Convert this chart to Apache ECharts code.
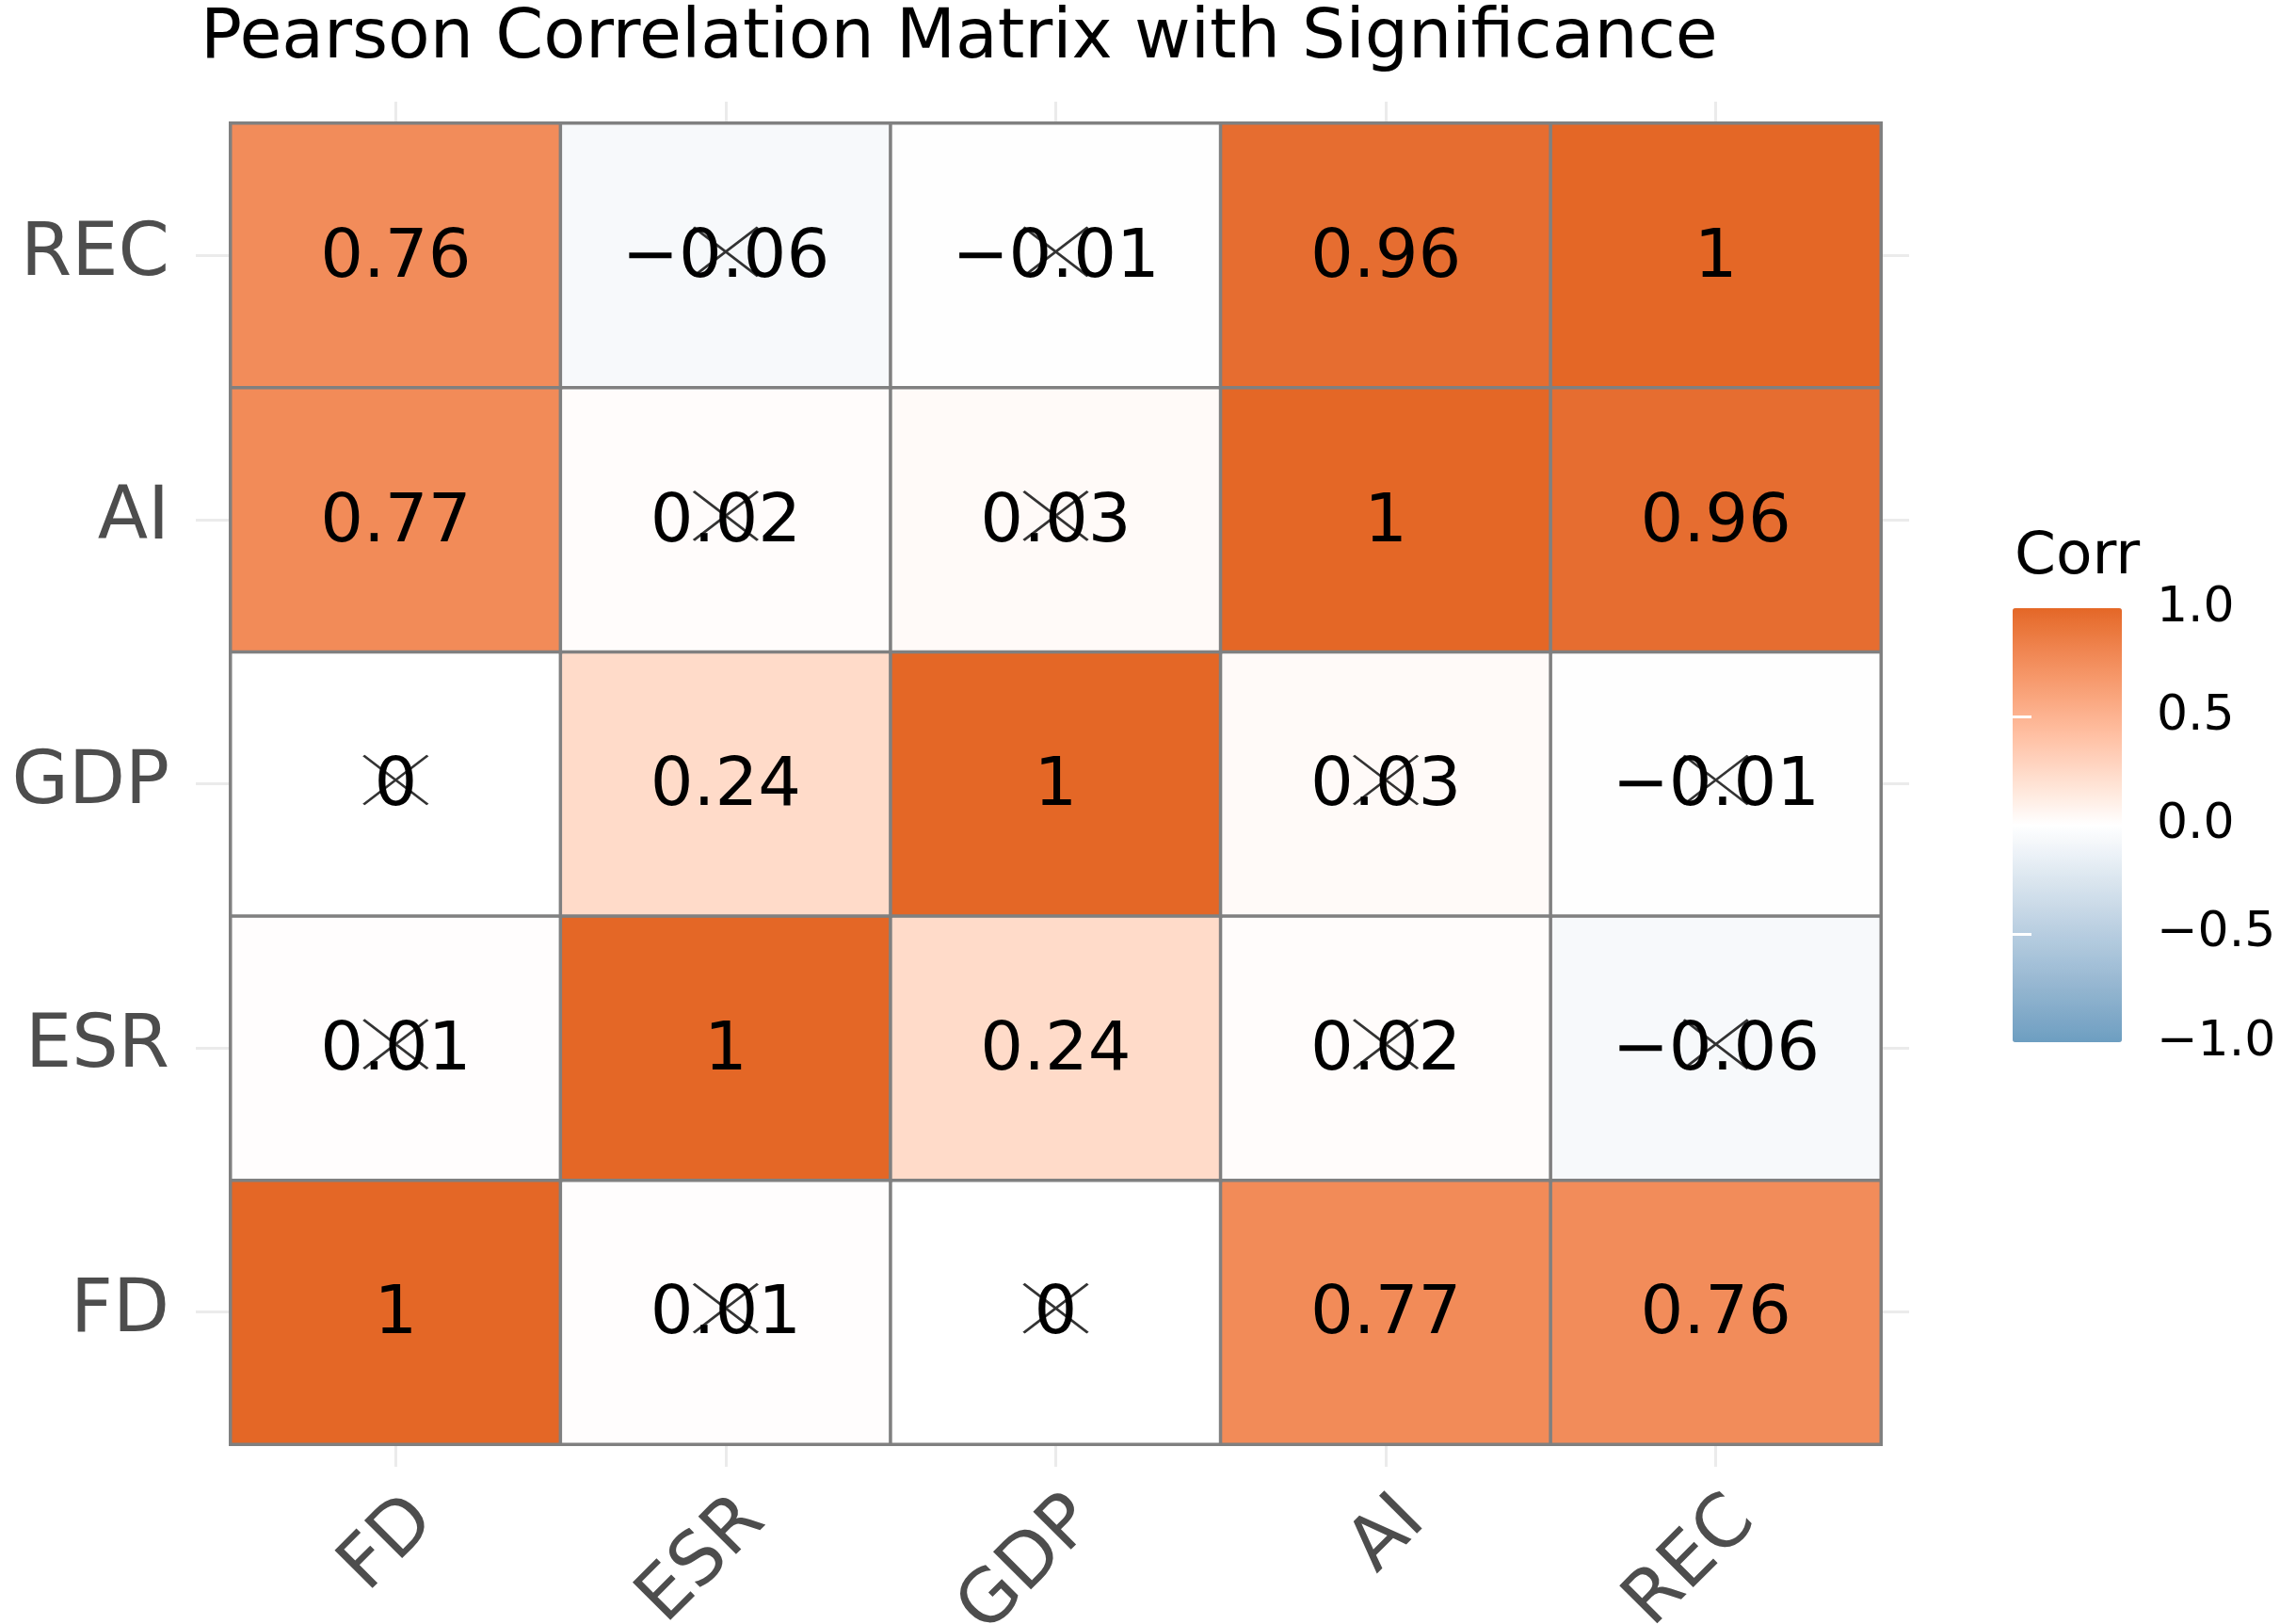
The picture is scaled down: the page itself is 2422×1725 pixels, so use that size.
<!DOCTYPE html>
<html>
<head>
<meta charset="utf-8">
<script src="https://cdn.jsdelivr.net/npm/echarts@6/dist/echarts.min.js"></script>
<style>
html,body{margin:0;padding:0;background:#fff;}
#chart{width:2422px;height:1725px;}
</style>
</head>
<body>
<div id="chart"></div>
<script>
// ---- data ----
var variables = ['FD', 'ESR', 'GDP', 'AI', 'REC'];
// correlation matrix, rows/cols in the order of `variables`
var corrFD  = [1,    0.01, 0,     0.77, 0.76];
var corrESR = [0.01, 1,    0.24,  0.02, -0.06];
var corrGDP = [0,    0.24, 1,     0.03, -0.01];
var corrAI  = [0.77, 0.02, 0.03,  1,    0.96];
var corrREC = [0.76, -0.06, -0.01, 0.96, 1];
// 1 = not significant (crossed out)
var insigFD  = [0, 1, 1, 0, 0];
var insigESR = [1, 0, 0, 1, 1];
var insigGDP = [1, 0, 0, 1, 1];
var insigAI  = [0, 1, 1, 0, 0];
var insigREC = [0, 1, 1, 0, 0];
var legendTicks = [-1, -0.5, 0, 0.5, 1];
var titleText = 'Pearson Correlation Matrix with Significance';
var legendTitle = 'Corr';

var corrRows = [corrFD, corrESR, corrGDP, corrAI, corrREC];
var insigRows = [insigFD, insigESR, insigGDP, insigAI, insigREC];

// ---- Lab colour interpolation (like ggplot2 gradient2) ----
function hexToRgb(h){h=h.replace('#','');return [parseInt(h.substr(0,2),16),parseInt(h.substr(2,2),16),parseInt(h.substr(4,2),16)];}
function lin(c){c/=255;return c<=0.04045?c/12.92:Math.pow((c+0.055)/1.055,2.4);}
function delin(c){c=c<=0.0031308?12.92*c:1.055*Math.pow(c,1/2.4)-0.055;return Math.max(0,Math.min(255,Math.round(c*255)));}
function rgbToLab(rgb){
  var r=lin(rgb[0]),g=lin(rgb[1]),b=lin(rgb[2]);
  var X=(0.4124*r+0.3576*g+0.1805*b)/0.95047,Y=(0.2126*r+0.7152*g+0.0722*b),Z=(0.0193*r+0.1192*g+0.9505*b)/1.08883;
  function f(t){return t>0.008856?Math.cbrt(t):7.787*t+16/116;}
  var fx=f(X),fy=f(Y),fz=f(Z);
  return [116*fy-16,500*(fx-fy),200*(fy-fz)];
}
function labToRgb(lab){
  var fy=(lab[0]+16)/116,fx=fy+lab[1]/500,fz=fy-lab[2]/200;
  function fi(t){return t*t*t>0.008856?t*t*t:(t-16/116)/7.787;}
  var X=fi(fx)*0.95047,Y=fi(fy),Z=fi(fz)*1.08883;
  var r=3.2406*X-1.5372*Y-0.4986*Z,g=-0.9689*X+1.8758*Y+0.0415*Z,b=0.0557*X-0.2040*Y+1.0570*Z;
  return 'rgb('+delin(r)+','+delin(g)+','+delin(b)+')';
}
function mix(c1,c2,t){var a=rgbToLab(hexToRgb(c1)),b=rgbToLab(hexToRgb(c2));return labToRgb([a[0]+(b[0]-a[0])*t,a[1]+(b[1]-a[1])*t,a[2]+(b[2]-a[2])*t]);}
var lowCol='#6D9EC1',midCol='#FFFFFF',highCol='#E46726';
var palette=[];
var N=40;
for(var i=0;i<=N;i++){
  var v=-1+2*i/N;
  palette.push(v<=0?mix(lowCol,midCol,v+1):mix(midCol,highCol,v));
}

// ---- build series data ----
var heatData=[], crossData=[];
for(var r=0;r<variables.length;r++){
  for(var c=0;c<variables.length;c++){
    heatData.push([c,r,corrRows[r][c]]);
    if(insigRows[r][c]) crossData.push([c,r]);
  }
}
function fmtNum(v){return String(v).replace('-','\u2212');}

var FONT='DejaVu Sans';
var chart=echarts.init(document.getElementById('chart'),null,{renderer:'canvas'});
var gridStub={show:true,alignWithLabel:true,inside:false,lineStyle:{color:'#EBEBEB',width:3}};
var innerTicks=legendTicks.filter(function(t){return t>-1&&t<1;});
var option={
  backgroundColor:'#ffffff',
  animation:false,
  title:[
    {text:titleText,left:213,top:6,padding:0,textStyle:{fontFamily:FONT,fontSize:73,fontWeight:'normal',color:'#000'}},
    {text:legendTitle,left:2140,top:561,padding:0,textStyle:{fontFamily:FONT,fontSize:63,fontWeight:'normal',color:'#000'}}
  ],
  grid:[
    {left:245,top:131,width:1753,height:1403,outerBoundsMode:'none',containLabel:false,show:true,borderColor:'#808080',borderWidth:3,backgroundColor:'transparent',z:0},
    {left:2138,top:646,width:116,height:461,outerBoundsMode:'none',containLabel:false,show:false,z:10}
  ],
  xAxis:[
    {type:'category',gridIndex:0,position:'bottom',data:variables,
     axisLine:{show:false},splitLine:{show:false},
     axisTick:Object.assign({length:24},gridStub),
     axisLabel:{rotate:45,margin:40,verticalAlign:'top',lineHeight:84,color:'#4D4D4D',fontFamily:FONT,fontSize:78}},
    {type:'category',gridIndex:0,position:'top',data:variables,
     axisLine:{show:false},splitLine:{show:false},axisLabel:{show:false},
     axisTick:Object.assign({length:23},gridStub)},
    {type:'value',gridIndex:1,show:false,min:0,max:1}
  ],
  yAxis:[
    {type:'category',gridIndex:0,position:'left',data:variables,
     axisLine:{show:false},splitLine:{show:false},
     axisTick:Object.assign({length:37},gridStub),
     axisLabel:{margin:65,color:'#4D4D4D',fontFamily:FONT,fontSize:78}},
    {type:'category',gridIndex:0,position:'right',data:variables,
     axisLine:{show:false},splitLine:{show:false},axisLabel:{show:false},
     axisTick:Object.assign({length:30},gridStub)},
    {type:'value',gridIndex:1,position:'right',min:-1,max:1,interval:0.5,z:10,
     axisLine:{show:false},splitLine:{show:false},
     axisTick:{show:true,inside:true,length:23,customValues:innerTicks,lineStyle:{color:'#ffffff',width:3}},
     axisLabel:{margin:37,color:'#000',fontFamily:FONT,fontSize:52,
       formatter:function(v){return fmtNum(v.toFixed(1));}}},
    {type:'value',gridIndex:1,position:'left',min:-1,max:1,interval:0.5,z:10,
     axisLine:{show:false},splitLine:{show:false},axisLabel:{show:false},
     axisTick:{show:true,inside:true,length:20,customValues:innerTicks,lineStyle:{color:'#ffffff',width:3}}}
  ],
  visualMap:{
    type:'continuous',min:-1,max:1,seriesIndex:0,
    left:2138,top:646,itemWidth:116,itemHeight:461,padding:0,
    calculable:false,text:null,showLabel:false,
    inRange:{color:palette},z:2
  },
  series:[
    {type:'heatmap',xAxisIndex:0,yAxisIndex:0,data:heatData,z:2,
     itemStyle:{borderColor:'#808080',borderWidth:3.5},
     label:{show:true,color:'#000',fontFamily:FONT,fontSize:72,offset:[0,4],
       formatter:function(p){return fmtNum(p.value[2]);}},
     emphasis:{disabled:true}},
    {type:'scatter',xAxisIndex:0,yAxisIndex:0,data:crossData,z:5,
     symbol:'path://M0,0L10,10M10,0L0,10',symbolSize:[68,52],symbolOffset:[0,-4],
     itemStyle:{color:'rgba(0,0,0,0)',borderColor:'#000',borderWidth:2.8},
     emphasis:{disabled:true},silent:true}
  ]
};
chart.setOption(option);
</script>
</body>
</html>
